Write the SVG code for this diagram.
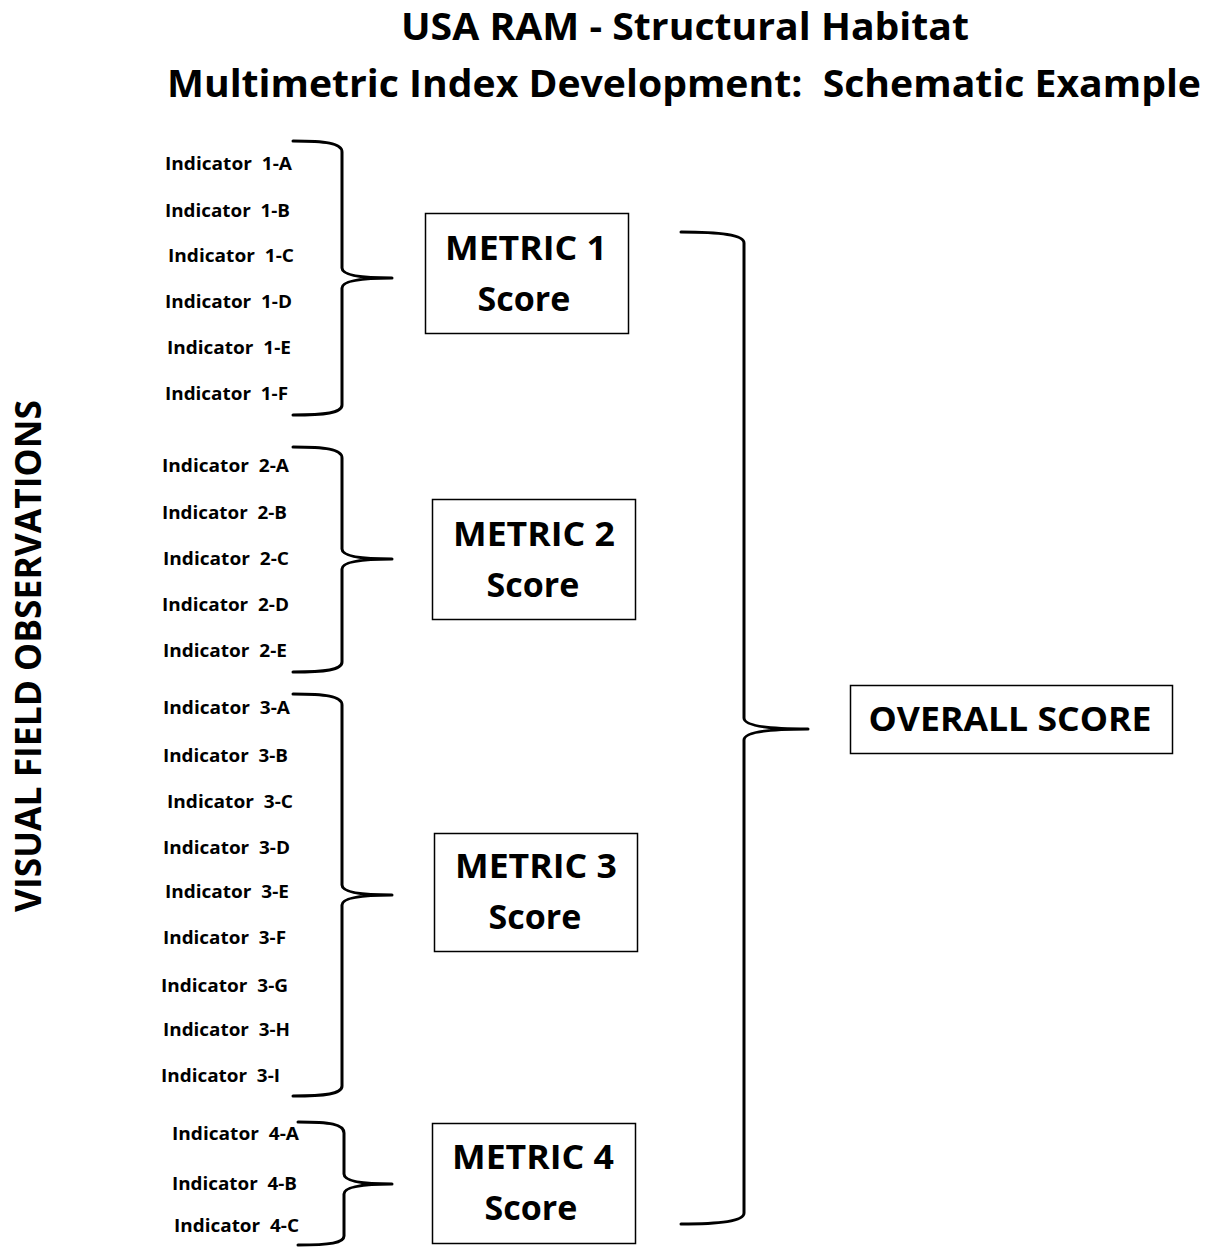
<svg xmlns="http://www.w3.org/2000/svg" width="1212" height="1247" viewBox="0 0 1212 1247" xml:space="preserve">
<style>
text{font-family:"Open Sans","Liberation Sans",sans-serif;font-weight:bold;fill:#000;white-space:pre}
.ind{font-size:17px}
.met{font-size:34px;text-anchor:middle}
.title{font-size:38px;text-anchor:middle}
.box{fill:#fff;stroke:#000;stroke-width:1.5}
.brace{fill:none;stroke:#000;stroke-width:3;stroke-linecap:round;stroke-linejoin:round}
</style>
<rect width="1212" height="1247" fill="#fff"/>
<g id="title">
<text class="title" x="685" y="40" textLength="568" lengthAdjust="spacingAndGlyphs">USA RAM - Structural Habitat</text>
<text class="title" x="684" y="97" textLength="1034" lengthAdjust="spacingAndGlyphs">Multimetric Index Development:  Schematic Example</text>
</g>
<g id="side-label">
<text x="0" y="0" transform="translate(41,656) rotate(-90)" text-anchor="middle" font-size="36" textLength="512" lengthAdjust="spacingAndGlyphs">VISUAL FIELD OBSERVATIONS</text>
</g>
<g id="indicators-1">
<text class="ind" x="165" y="170" textLength="127" lengthAdjust="spacingAndGlyphs">Indicator  1-A</text>
<text class="ind" x="165" y="217" textLength="125" lengthAdjust="spacingAndGlyphs">Indicator  1-B</text>
<text class="ind" x="168" y="262" textLength="126" lengthAdjust="spacingAndGlyphs">Indicator  1-C</text>
<text class="ind" x="165" y="308" textLength="127" lengthAdjust="spacingAndGlyphs">Indicator  1-D</text>
<text class="ind" x="167" y="354" textLength="124" lengthAdjust="spacingAndGlyphs">Indicator  1-E</text>
<text class="ind" x="165" y="400" textLength="123" lengthAdjust="spacingAndGlyphs">Indicator  1-F</text>
</g>
<g id="indicators-2">
<text class="ind" x="162" y="472" textLength="127" lengthAdjust="spacingAndGlyphs">Indicator  2-A</text>
<text class="ind" x="162" y="519" textLength="125" lengthAdjust="spacingAndGlyphs">Indicator  2-B</text>
<text class="ind" x="163" y="565" textLength="126" lengthAdjust="spacingAndGlyphs">Indicator  2-C</text>
<text class="ind" x="162" y="611" textLength="127" lengthAdjust="spacingAndGlyphs">Indicator  2-D</text>
<text class="ind" x="163" y="657" textLength="124" lengthAdjust="spacingAndGlyphs">Indicator  2-E</text>
</g>
<g id="indicators-3">
<text class="ind" x="163" y="714" textLength="127" lengthAdjust="spacingAndGlyphs">Indicator  3-A</text>
<text class="ind" x="163" y="762" textLength="125" lengthAdjust="spacingAndGlyphs">Indicator  3-B</text>
<text class="ind" x="167" y="808" textLength="126" lengthAdjust="spacingAndGlyphs">Indicator  3-C</text>
<text class="ind" x="163" y="854" textLength="127" lengthAdjust="spacingAndGlyphs">Indicator  3-D</text>
<text class="ind" x="165" y="898" textLength="124" lengthAdjust="spacingAndGlyphs">Indicator  3-E</text>
<text class="ind" x="163" y="944" textLength="123" lengthAdjust="spacingAndGlyphs">Indicator  3-F</text>
<text class="ind" x="161" y="992" textLength="127" lengthAdjust="spacingAndGlyphs">Indicator  3-G</text>
<text class="ind" x="163" y="1036" textLength="127" lengthAdjust="spacingAndGlyphs">Indicator  3-H</text>
<text class="ind" x="161" y="1082" textLength="119" lengthAdjust="spacingAndGlyphs">Indicator  3-I</text>
</g>
<g id="indicators-4">
<text class="ind" x="172" y="1140" textLength="127" lengthAdjust="spacingAndGlyphs">Indicator  4-A</text>
<text class="ind" x="172" y="1190" textLength="125" lengthAdjust="spacingAndGlyphs">Indicator  4-B</text>
<text class="ind" x="174" y="1232" textLength="125" lengthAdjust="spacingAndGlyphs">Indicator  4-C</text>
</g>
<g id="metric1">
<rect class="box" x="425.5" y="213.5" width="203" height="120"/>
<text class="met" x="526" y="260" textLength="162" lengthAdjust="spacingAndGlyphs">METRIC 1</text>
<text class="met" x="524" y="311">Score</text>
</g>
<g id="metric2">
<rect class="box" x="432.5" y="499.5" width="203" height="120"/>
<text class="met" x="534" y="546" textLength="162" lengthAdjust="spacingAndGlyphs">METRIC 2</text>
<text class="met" x="533" y="597">Score</text>
</g>
<g id="metric3">
<rect class="box" x="434.5" y="833.5" width="203" height="118"/>
<text class="met" x="536" y="878" textLength="162" lengthAdjust="spacingAndGlyphs">METRIC 3</text>
<text class="met" x="535" y="929">Score</text>
</g>
<g id="metric4">
<rect class="box" x="432.5" y="1123.5" width="203" height="120"/>
<text class="met" x="533" y="1169" textLength="162" lengthAdjust="spacingAndGlyphs">METRIC 4</text>
<text class="met" x="531" y="1220">Score</text>
</g>
<g id="overall">
<rect class="box" x="850.5" y="685.5" width="322" height="68"/>
<text class="met" x="1010" y="731" textLength="283" lengthAdjust="spacingAndGlyphs">OVERALL SCORE</text>
</g>
<g id="connectors">
<path class="brace" d="M293,141 C325,141 342,143 342,152 V268 C342,275 360,278 392,278 C360,278 342,281 342,288 V405 C342,413 325,415 293,415"/>
<path class="brace" d="M293,447 C325,447 342,449 342,458 V549 C342,556 360,559 392,559 C360,559 342,562 342,569 V662 C342,670 325,672 293,672"/>
<path class="brace" d="M293,694 C325,694 342,696 342,705 V885 C342,892 360,895 392,895 C360,895 342,898 342,905 V1086 C342,1094 325,1096 293,1096"/>
<path class="brace" d="M298,1122 C330,1122 344,1124 344,1133 V1174 C344,1181 362,1184 392,1184 C362,1184 344,1187 344,1194 V1236 C344,1243 330,1245 298,1245"/>
<path class="brace" d="M681,232 C720,232 744,235 744,243 V718 C744,726 770,729 808,729 C770,729 744,732 744,740 V1213 C744,1221 720,1224 681,1224"/>
</g>
</svg>
